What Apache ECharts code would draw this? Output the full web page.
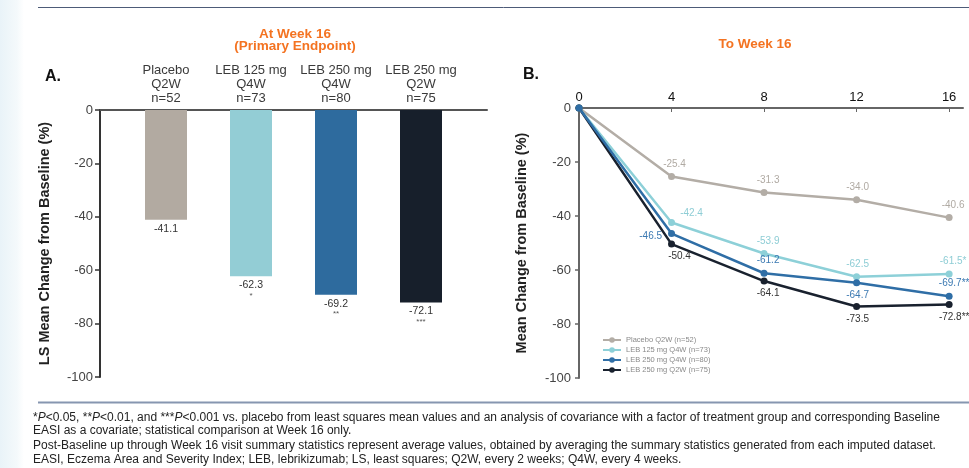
<!DOCTYPE html>
<html>
<head>
<meta charset="utf-8">
<script src="https://cdn.jsdelivr.net/npm/echarts@6/dist/echarts.min.js"></script>
<style>
  html, body { margin: 0; padding: 0; background: #fff; }
  #chart { width: 969px; height: 468px; }
</style>
</head>
<body>
<div id="chart"></div>
<script>
// Panel A: LS mean change from baseline at Week 16
const barCategories = ['Placebo\nQ2W\nn=52', 'LEB 125 mg\nQ4W\nn=73', 'LEB 250 mg\nQ4W\nn=80', 'LEB 250 mg\nQ2W\nn=75'];
const barValues = [-41.1, -62.3, -69.2, -72.1];
const barStars = ['', '*', '**', '***'];
const barColors = ['#b2aaa1', '#93cdd5', '#2e6b9e', '#171f2b'];

// Panel B: mean change over time to Week 16
const weeks = [0, 4, 8, 12, 16];
const weekTicks = [0, 4, 8, 12, 16];
const placeboQ2W = [0, -25.4, -31.3, -34.0, -40.6];
const leb125Q4W = [0, -42.4, -53.9, -62.5, -61.5];
const leb250Q4W = [0, -46.5, -61.2, -64.7, -69.7];
const leb250Q2W = [0, -50.4, -64.1, -73.5, -72.8];
const week16Stars = { placebo: '', leb125Q4W: '*', leb250Q4W: '**', leb250Q2W: '***' };
const lineNames = ['Placebo Q2W (n=52)', 'LEB 125 mg Q4W (n=73)', 'LEB 250 mg Q4W (n=80)', 'LEB 250 mg Q2W (n=75)'];

const FONT = 'Liberation Sans, Arial, sans-serif';
const ORANGE = '#f47321';

const chart = echarts.init(document.getElementById('chart'), null, { renderer: 'canvas' });

function lineSeries(name, values, color, labelColor, labelSpecs, stars) {
  return {
    type: 'line',
    name: name,
    xAxisIndex: 2,
    yAxisIndex: 2,
    data: values.map((v, i) => {
      const item = { value: [weeks[i], v] };
      const spec = labelSpecs[i];
      if (spec) {
        item.label = {
          show: true,
          position: spec.pos,
          offset: spec.off || [0, 0],
          distance: 4,
          formatter: v.toFixed(1) + (i === values.length - 1 ? stars : '')
        };
      }
      return item;
    }),
    symbol: 'circle',
    symbolSize: 7,
    lineStyle: { color: color, width: 2.5 },
    itemStyle: { color: color },
    label: { show: false, color: labelColor, fontSize: 10, fontFamily: FONT },
    emphasis: { disabled: true },
    z: 3
  };
}

const option = {
  animation: false,
  backgroundColor: '#ffffff',
  textStyle: { fontFamily: FONT },
  grid: [
    { left: 100, right: 482, top: 110, bottom: 91 },
    { left: 123.5, right: 505.5, top: 110, bottom: 91 },
    { left: 579, right: 6, top: 108, bottom: 90 }
  ],
  xAxis: [
    {
      gridIndex: 0, type: 'value', min: 0, max: 1, position: 'top',
      axisLine: { show: true, lineStyle: { color: '#555', width: 2 } },
      axisTick: { show: false }, axisLabel: { show: false }, splitLine: { show: false }
    },
    {
      gridIndex: 1, type: 'category', data: barCategories, position: 'top',
      axisLine: { show: false }, axisTick: { show: false }, splitLine: { show: false },
      axisLabel: { margin: 4, fontSize: 13, lineHeight: 14.2, color: '#3a3a3a', fontFamily: FONT, interval: 0 }
    },
    {
      gridIndex: 2, type: 'value', min: 0, max: 16.6, position: 'top',
      axisLine: { show: true, onZero: false, lineStyle: { color: '#666', width: 2 } },
      axisTick: { show: true, inside: true, length: 4, customValues: weekTicks, lineStyle: { color: '#666' } },
      axisLabel: { customValues: weekTicks, margin: 4, fontSize: 13, color: '#111', fontFamily: FONT },
      splitLine: { show: false }
    }
  ],
  yAxis: [
    {
      gridIndex: 0, type: 'value', min: -100, max: 0, interval: 20,
      axisLine: { show: true, lineStyle: { color: '#333', width: 2 } },
      axisTick: { show: true, length: 5, lineStyle: { color: '#333', width: 1.5 } },
      axisLabel: { margin: 7, fontSize: 13, color: '#444', fontFamily: FONT },
      splitLine: { show: false },
      name: 'LS Mean Change from Baseline (%)', nameLocation: 'middle', nameGap: 48,
      nameTextStyle: { fontSize: 14.5, fontWeight: 'bold', color: '#222', fontFamily: FONT }
    },
    { gridIndex: 1, type: 'value', min: -100, max: 0, show: false },
    {
      gridIndex: 2, type: 'value', min: -100, max: 0, interval: 20,
      axisLine: { show: true, onZero: false, lineStyle: { color: '#666', width: 2 } },
      axisTick: { show: true, length: 4, lineStyle: { color: '#666', width: 1.5 } },
      axisLabel: { margin: 8, fontSize: 13, color: '#444', fontFamily: FONT },
      splitLine: { show: false },
      name: 'Mean Change from Baseline (%)', nameLocation: 'middle', nameGap: 50,
      nameTextStyle: { fontSize: 14.5, fontWeight: 'bold', color: '#222', fontFamily: FONT }
    }
  ],
  legend: {
    orient: 'vertical', left: 597, top: 331,
    itemWidth: 18, itemHeight: 7, itemGap: 2,
    data: lineNames,
    textStyle: { fontSize: 7.5, color: '#8a8a8a', fontFamily: FONT },
    selectedMode: false
  },
  series: [
    {
      type: 'bar', xAxisIndex: 1, yAxisIndex: 1, barWidth: 42,
      data: barValues.map((v, i) => ({
        value: v,
        itemStyle: { color: barColors[i] },
        label: {
          formatter: '{v|' + v.toFixed(1) + '}' + (barStars[i] ? '\n{s|' + barStars[i] + '}' : '')
        }
      })),
      label: {
        show: true, position: 'bottom', distance: 3,
        rich: {
          v: { fontSize: 10.5, color: '#333', fontFamily: FONT, lineHeight: 12 },
          s: { fontSize: 8, color: '#555', fontFamily: FONT, lineHeight: 8 }
        }
      },
      emphasis: { disabled: true }
    },
    lineSeries(lineNames[0], placeboQ2W, '#b3ada6', '#b0aaa3', [
      null,
      { pos: 'top', off: [3, 0] },
      { pos: 'top', off: [4, 0] },
      { pos: 'top', off: [1, 0] },
      { pos: 'top', off: [4, 0] }
    ], week16Stars.placebo),
    lineSeries(lineNames[1], leb125Q4W, '#8dd0d8', '#8ecdd5', [
      null,
      { pos: 'top', off: [20, 3] },
      { pos: 'top', off: [4, 0] },
      { pos: 'top', off: [1, 0] },
      { pos: 'top', off: [4, 0] }
    ], week16Stars.leb125Q4W),
    lineSeries(lineNames[3], leb250Q2W, '#19212e', '#333', [
      null,
      { pos: 'bottom', off: [8, 0] },
      { pos: 'bottom', off: [4, 0] },
      { pos: 'bottom', off: [1, 0] },
      { pos: 'bottom', off: [7, 0] }
    ], week16Stars.leb250Q2W),
    lineSeries(lineNames[2], leb250Q4W, '#2f6ea6', '#3b79b2', [
      null,
      { pos: 'left', off: [-2, 3] },
      { pos: 'top', off: [4, 0] },
      { pos: 'bottom', off: [1, 0] },
      { pos: 'top', off: [5, 0] }
    ], week16Stars.leb250Q4W)
  ],
  graphic: [
    {
      type: 'rect', silent: true, z: -10,
      shape: { x: 0, y: 0, width: 24, height: 468 },
      style: {
        fill: new echarts.graphic.LinearGradient(0, 0, 1, 0, [
          { offset: 0, color: '#e9f3f8' },
          { offset: 0.7, color: '#f4f9fb' },
          { offset: 1, color: '#ffffff' }
        ])
      }
    },
    { type: 'line', silent: true, shape: { x1: 38, y1: 7.5, x2: 969, y2: 7.5 }, style: { stroke: '#4d5b78', lineWidth: 1 } },
    { type: 'line', silent: true, shape: { x1: 38, y1: 402.5, x2: 969, y2: 402.5 }, style: { stroke: '#8696b0', lineWidth: 2 } },
    { type: 'text', silent: true, x: 295, y: 34, style: { text: 'At Week 16', fill: ORANGE, font: 'bold 13.5px ' + FONT, align: 'center', verticalAlign: 'middle' } },
    { type: 'text', silent: true, x: 295, y: 46.5, style: { text: '(Primary Endpoint)', fill: ORANGE, font: 'bold 13.5px ' + FONT, align: 'center', verticalAlign: 'middle' } },
    { type: 'text', silent: true, x: 755, y: 44, style: { text: 'To Week 16', fill: ORANGE, font: 'bold 13.5px ' + FONT, align: 'center', verticalAlign: 'middle' } },
    { type: 'text', silent: true, x: 45, y: 76.5, style: { text: 'A.', fill: '#111', font: 'bold 16px ' + FONT, verticalAlign: 'middle' } },
    { type: 'text', silent: true, x: 523, y: 74.5, style: { text: 'B.', fill: '#111', font: 'bold 16px ' + FONT, verticalAlign: 'middle' } },
    {
      type: 'text', silent: true, x: 33, y: 418,
      style: {
        text: '*{i|P}<0.05, **{i|P}<0.01, and ***{i|P}<0.001 vs. placebo from least squares mean values and an analysis of covariance with a factor of treatment group and corresponding Baseline',
        fill: '#222', font: '12px ' + FONT, verticalAlign: 'middle',
        rich: { i: { fontStyle: 'italic', fontSize: 12, fill: '#222', fontFamily: FONT } }
      }
    },
    { type: 'text', silent: true, x: 33, y: 431, style: { text: 'EASI as a covariate; statistical comparison at Week 16 only.', fill: '#222', font: '12px ' + FONT, verticalAlign: 'middle' } },
    { type: 'text', silent: true, x: 33, y: 445.5, style: { text: 'Post-Baseline up through Week 16 visit summary statistics represent average values, obtained by averaging the summary statistics generated from each imputed dataset.', fill: '#222', font: '12px ' + FONT, verticalAlign: 'middle' } },
    { type: 'text', silent: true, x: 33, y: 459.5, style: { text: 'EASI, Eczema Area and Severity Index; LEB, lebrikizumab; LS, least squares; Q2W, every 2 weeks; Q4W, every 4 weeks.', fill: '#222', font: '12px ' + FONT, verticalAlign: 'middle' } }
  ]
};

chart.setOption(option);
</script>
</body>
</html>
